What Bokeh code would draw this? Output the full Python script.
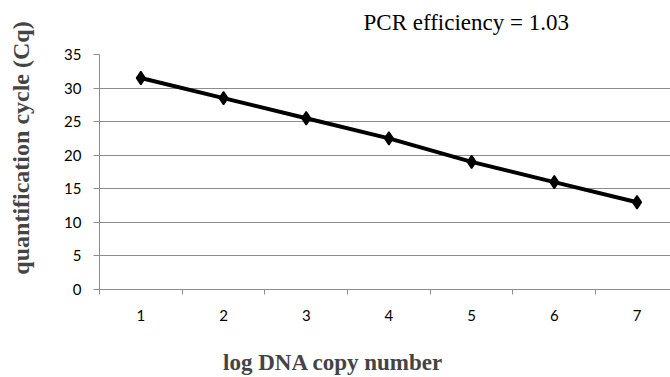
from bokeh.plotting import figure
from bokeh.models import FixedTicker, Range1d, Title
from bokeh.embed import file_html
from bokeh.resources import INLINE

# Data
log_copy = [1, 2, 3, 4, 5, 6, 7]
cq = [31.5, 28.5, 25.5, 22.5, 19.0, 16.0, 13.0]
x_tick_labels = ["1", "2", "3", "4", "5", "6", "7"]
y_ticks = [0, 5, 10, 15, 20, 25, 30, 35]
title_text = "PCR efficiency = 1.03"
x_title = "log DNA copy number"
y_title = "quantification cycle (Cq)"

SERIF = "Liberation Serif"
NB = "\u00a0"

p = figure(width=670, height=377, output_backend="svg", toolbar_location=None,
           title=None,
           x_range=Range1d(0.5, 7.405), y_range=Range1d(0, 35),
           min_border_left=99, min_border_right=0, min_border_top=54, min_border_bottom=88)
p.outline_line_color = None
p.background_fill_color = "white"
p.border_fill_color = "white"

# spacer (closest to the frame), then the visible title above it
p.add_layout(Title(text=NB, text_font_size="1px", standoff=17), "above")
p.add_layout(Title(text=title_text, text_font=SERIF, text_font_style="normal",
                   text_font_size="23px", text_color="black", align="left",
                   offset=264, standoff=0), "above")

p.line(log_copy, cq, line_color="black", line_width=4)
p.scatter(log_copy, cq, marker="diamond", size=13, fill_color="black",
          line_color="black", line_width=1.5)

# x axis
p.xaxis.ticker = FixedTicker(ticks=log_copy, minor_ticks=[i + 0.5 for i in range(0, 8)])
p.xaxis.major_label_overrides = {v: s for v, s in zip(log_copy, x_tick_labels)}
p.xaxis.major_tick_line_color = None
p.xaxis.minor_tick_line_color = "#8c8c8c"
p.xaxis.minor_tick_out = 5
p.xaxis.minor_tick_in = 0
p.xaxis.axis_line_color = "#8c8c8c"
p.xaxis.major_label_text_font = "Lato"
p.xaxis.major_label_text_font_size = "15px"
p.xaxis.major_label_text_color = "black"
p.xaxis.major_label_standoff = 14
p.xaxis.axis_label = x_title + NB * 18
p.xaxis.axis_label_text_font = SERIF
p.xaxis.axis_label_text_font_style = "bold"
p.xaxis.axis_label_text_font_size = "23px"
p.xaxis.axis_label_standoff = 26

# y axis
p.yaxis.ticker = FixedTicker(ticks=y_ticks, minor_ticks=[])
p.yaxis.major_tick_line_color = "#8c8c8c"
p.yaxis.major_tick_out = 6
p.yaxis.major_tick_in = 0
p.yaxis.axis_line_color = "#8c8c8c"
p.yaxis.major_label_text_font = "Lato"
p.yaxis.major_label_text_font_size = "15px"
p.yaxis.major_label_text_color = "black"
p.yaxis.major_label_standoff = 12
p.yaxis.axis_label = NB * 8 + y_title
p.yaxis.axis_label_text_font = SERIF
p.yaxis.axis_label_text_font_style = "bold"
p.yaxis.axis_label_text_font_size = "24px"
p.yaxis.axis_label_standoff = 27

p.xgrid.grid_line_color = None
p.ygrid.ticker = FixedTicker(ticks=y_ticks)
p.ygrid.grid_line_color = "#8c8c8c"
p.ygrid.grid_line_width = 1

open("out.html", "w").write(file_html(p, INLINE))
